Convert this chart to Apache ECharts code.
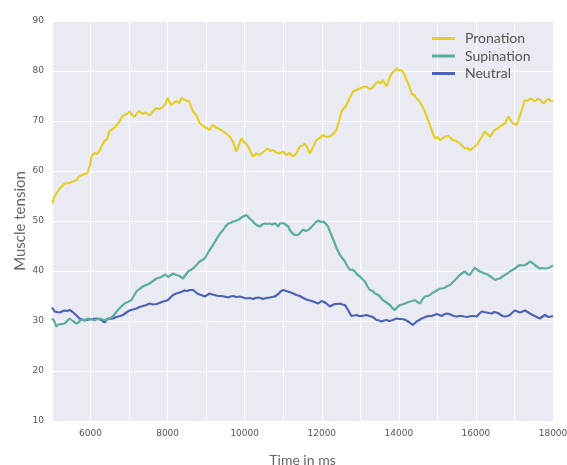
<!DOCTYPE html>
<html>
<head>
<meta charset="utf-8">
<script src="https://cdn.jsdelivr.net/npm/echarts@6/dist/echarts.min.js"></script>
<style>html,body{margin:0;padding:0;background:#fff}#c{width:567px;height:465px}</style>
</head>
<body>
<div id="c"></div>
<script>
var seriesNames = ['Pronation', 'Supination', 'Neutral'];
var yTicks = [10, 20, 30, 40, 50, 60, 70, 80, 90];
var xTicks = [6000, 8000, 10000, 12000, 14000, 16000, 18000];

var pronation = [
[5010,53.5],[5060,54.8],[5120,55.6],[5200,56.5],[5330,57.5],[5450,57.6],[5580,58.0],[5650,58.3],[5710,59.0],[5820,59.3],[5920,59.6],[5980,61.0],[6030,63.0],[6100,63.6],[6160,63.4],[6230,64.0],[6300,65.2],[6360,66.0],[6430,66.4],[6490,68.0],[6580,68.4],[6680,69.2],[6760,70.0],[6830,71.0],[6920,71.3],[7010,71.9],[7080,71.2],[7140,70.8],[7210,71.6],[7270,72.0],[7350,71.4],[7430,71.7],[7530,71.1],[7620,71.9],[7710,72.6],[7790,72.3],[7870,72.8],[7940,73.4],[8000,74.6],[8050,73.8],[8100,73.2],[8170,73.7],[8230,74.0],[8300,73.6],[8360,74.6],[8460,74.2],[8570,73.8],[8650,72.0],[8740,71.2],[8830,69.6],[8920,69.0],[9010,68.6],[9090,68.2],[9170,69.2],[9280,68.6],[9390,68.2],[9500,67.6],[9610,66.9],[9700,65.8],[9780,63.9],[9850,65.2],[9910,66.5],[10000,65.7],[10090,64.9],[10150,63.8],[10220,62.9],[10300,63.5],[10390,63.2],[10500,63.9],[10600,64.5],[10670,64.0],[10740,64.2],[10820,63.7],[10910,63.5],[11000,63.9],[11080,63.2],[11170,63.6],[11250,62.9],[11340,63.5],[11430,64.9],[11500,65.1],[11560,65.5],[11630,64.6],[11690,63.5],[11780,64.9],[11860,66.2],[11950,66.6],[12030,67.2],[12120,66.8],[12210,66.9],[12300,67.4],[12380,68.2],[12450,70.0],[12510,71.9],[12580,72.6],[12640,73.2],[12720,74.5],[12810,75.9],[12900,76.2],[12990,76.5],[13070,76.8],[13160,76.9],[13230,76.4],[13290,76.5],[13380,77.3],[13460,77.9],[13530,77.5],[13590,78.2],[13680,76.9],[13750,78.4],[13810,79.5],[13880,80.0],[13940,80.5],[14010,80.1],[14070,80.2],[14140,79.4],[14200,78.2],[14270,77.0],[14330,75.5],[14400,75.2],[14460,74.5],[14530,74.0],[14590,73.2],[14660,72.2],[14720,70.9],[14790,69.5],[14850,68.2],[14900,67.2],[14940,66.5],[15000,66.8],[15070,66.2],[15130,66.5],[15200,66.9],[15280,67.0],[15340,66.6],[15410,66.2],[15500,66.0],[15580,65.5],[15650,65.0],[15710,64.5],[15780,64.6],[15840,64.2],[15910,64.5],[15970,64.9],[16040,65.4],[16100,66.2],[16170,67.1],[16230,67.9],[16300,67.4],[16360,66.9],[16430,67.6],[16490,68.2],[16560,68.5],[16620,68.9],[16690,69.2],[16750,69.5],[16800,70.2],[16840,70.9],[16910,70.0],[16970,69.5],[17060,69.2],[17120,70.6],[17190,72.2],[17270,74.2],[17340,74.0],[17400,74.5],[17470,74.3],[17530,73.9],[17620,74.5],[17690,74.0],[17750,73.5],[17810,74.0],[17880,74.5],[17940,74.0],[18000,73.9]
];

var supination = [
[5000,30.5],[5060,30.0],[5110,28.9],[5170,29.3],[5240,29.4],[5330,29.5],[5390,30.0],[5460,30.5],[5540,30.0],[5630,29.5],[5700,29.8],[5760,30.3],[5850,30.2],[5930,30.5],[6010,30.4],[6100,30.1],[6170,30.4],[6230,30.5],[6320,30.3],[6410,30.2],[6500,30.5],[6580,30.9],[6650,31.6],[6710,32.2],[6800,32.9],[6880,33.5],[6970,33.8],[7060,34.2],[7120,35.0],[7190,35.9],[7270,36.4],[7360,36.9],[7440,37.2],[7530,37.5],[7620,38.0],[7710,38.5],[7800,38.7],[7880,39.0],[7940,39.3],[8010,38.8],[8070,39.1],[8140,39.5],[8230,39.2],[8310,39.0],[8400,38.5],[8440,38.3],[8530,39.9],[8600,40.2],[8660,40.5],[8750,41.2],[8830,41.9],[8900,42.2],[8960,42.5],[9030,43.4],[9090,44.2],[9180,45.2],[9240,46.0],[9310,46.9],[9370,47.6],[9440,48.2],[9500,48.9],[9570,49.5],[9630,49.6],[9700,49.9],[9760,50.0],[9830,50.2],[9900,50.6],[9960,50.9],[10040,51.2],[10090,50.8],[10130,50.5],[10200,50.0],[10260,49.5],[10330,49.1],[10390,48.9],[10460,49.3],[10520,49.5],[10590,49.4],[10650,49.5],[10720,49.3],[10780,49.6],[10870,48.9],[10910,49.5],[11000,49.6],[11040,49.2],[11130,48.9],[11170,48.2],[11230,47.6],[11300,47.2],[11380,47.2],[11430,47.5],[11520,48.3],[11580,48.0],[11650,48.2],[11710,48.6],[11780,49.2],[11840,49.7],[11910,50.1],[11970,49.8],[12030,49.9],[12100,49.5],[12160,48.9],[12250,47.2],[12340,45.5],[12400,44.3],[12470,43.2],[12530,42.6],[12600,41.9],[12660,41.0],[12730,40.2],[12790,40.3],[12860,39.9],[12920,39.3],[12990,38.9],[13050,38.4],[13120,37.9],[13180,37.0],[13250,36.2],[13320,36.0],[13380,35.5],[13440,35.3],[13510,34.9],[13570,34.3],[13640,33.9],[13700,33.6],[13770,33.2],[13830,32.6],[13900,32.2],[13960,32.8],[14030,33.2],[14090,33.3],[14160,33.5],[14220,33.7],[14290,33.9],[14350,34.0],[14420,34.2],[14480,33.8],[14550,33.5],[14610,34.3],[14680,34.9],[14740,35.0],[14810,35.2],[14870,35.6],[14940,35.9],[15000,36.2],[15070,36.5],[15130,36.5],[15200,36.7],[15260,37.0],[15330,37.2],[15390,37.7],[15460,38.2],[15520,38.7],[15580,39.2],[15650,39.6],[15710,39.9],[15780,39.4],[15840,39.2],[15910,40.0],[15970,40.7],[16040,40.2],[16100,39.9],[16170,39.7],[16230,39.5],[16300,39.3],[16360,39.0],[16430,38.6],[16490,38.2],[16560,38.4],[16620,38.5],[16690,38.9],[16750,39.2],[16820,39.5],[16880,39.9],[16950,40.2],[17010,40.5],[17080,40.9],[17140,41.2],[17210,41.1],[17270,41.2],[17340,41.5],[17400,41.9],[17470,41.6],[17530,41.2],[17600,40.8],[17660,40.5],[17730,40.6],[17790,40.5],[17860,40.6],[17920,40.7],[18000,41.2]
];

var neutral = [
[5000,32.7],[5030,32.3],[5070,31.9],[5130,31.8],[5200,31.7],[5260,31.9],[5330,32.1],[5390,32.0],[5460,32.2],[5520,31.9],[5580,31.5],[5650,31.0],[5710,30.5],[5780,30.3],[5840,30.1],[5910,30.2],[5970,30.3],[6060,30.4],[6150,30.5],[6210,30.4],[6280,30.2],[6320,29.9],[6360,29.7],[6410,30.1],[6450,30.5],[6510,30.4],[6580,30.5],[6640,30.7],[6710,30.9],[6770,31.0],[6840,31.2],[6930,31.7],[7010,32.1],[7100,32.3],[7190,32.5],[7270,32.8],[7360,33.0],[7450,33.2],[7530,33.5],[7620,33.3],[7710,33.4],[7790,33.6],[7880,33.9],[7940,34.0],[8010,34.2],[8070,34.7],[8140,35.2],[8230,35.5],[8310,35.7],[8380,35.9],[8440,36.1],[8510,36.0],[8570,36.2],[8620,36.1],[8660,36.2],[8700,35.9],[8770,35.5],[8830,35.3],[8900,35.1],[8960,34.9],[9030,35.2],[9090,35.5],[9160,35.3],[9220,35.2],[9310,35.0],[9390,35.0],[9480,34.9],[9570,34.7],[9630,34.9],[9700,35.0],[9780,34.8],[9870,34.9],[9960,34.7],[10040,34.5],[10130,34.6],[10220,34.4],[10280,34.6],[10350,34.7],[10410,34.6],[10480,34.4],[10560,34.6],[10650,34.7],[10710,34.8],[10780,34.9],[10870,35.4],[10930,35.9],[11000,36.2],[11080,36.0],[11130,35.9],[11190,35.7],[11260,35.5],[11340,35.2],[11430,35.0],[11520,34.6],[11600,34.3],[11690,34.1],[11780,33.9],[11840,33.7],[11910,33.5],[11990,34.0],[12060,33.8],[12120,33.5],[12210,32.9],[12280,33.2],[12340,33.4],[12410,33.4],[12470,33.5],[12530,33.3],[12600,33.2],[12680,32.2],[12770,31.0],[12840,31.1],[12900,31.2],[12970,31.0],[13030,31.0],[13100,31.1],[13160,31.2],[13230,31.0],[13290,30.9],[13360,30.6],[13420,30.2],[13490,30.1],[13550,29.9],[13620,30.1],[13680,30.2],[13750,30.0],[13810,30.1],[13880,30.3],[13940,30.5],[14010,30.4],[14070,30.4],[14140,30.3],[14200,30.1],[14280,29.7],[14360,29.2],[14410,29.5],[14460,29.9],[14530,30.2],[14590,30.5],[14660,30.7],[14720,30.9],[14790,31.0],[14850,31.0],[14920,31.2],[14980,31.4],[15050,31.2],[15110,31.0],[15170,31.3],[15240,31.5],[15300,31.4],[15370,31.2],[15430,31.0],[15500,30.9],[15560,31.0],[15630,31.0],[15690,30.9],[15760,30.8],[15820,30.9],[15890,31.0],[15950,31.0],[16020,30.9],[16080,31.4],[16150,31.9],[16210,31.8],[16280,31.7],[16340,31.6],[16410,31.5],[16470,31.8],[16520,32.1],[16570,31.6],[16620,31.2],[16690,31.0],[16750,30.9],[16820,31.0],[16880,31.2],[16950,31.7],[17010,32.1],[17080,31.9],[17140,31.7],[17210,31.9],[17270,32.1],[17340,31.8],[17400,31.5],[17470,31.2],[17530,31.0],[17600,30.7],[17660,30.5],[17730,30.9],[17790,31.2],[17840,31.0],[17880,30.8],[17940,30.9],[18000,31.0]
];

var colors = ['#E6CE2A', '#5BAD9D', '#4F61B4'];
var chart = echarts.init(document.getElementById('c'), null, {renderer: 'canvas'});
var lineSeries = [pronation, supination, neutral].map(function (d, i) {
  return {
    name: seriesNames[i], type: 'line', data: d, showSymbol: false, symbol: 'none',
    lineStyle: {width: 2.2, color: colors[i]}, itemStyle: {color: colors[i]},
    animation: false, z: 3 - i + 2
  };
});
chart.setOption({
  animation: false,
  backgroundColor: '#ffffff',
  color: colors,
  grid: {left: 52, right: 14, top: 21, bottom: 44, show: true, backgroundColor: '#EAEAF2', borderWidth: 0,
    containLabel: false, outerBoundsMode: 'none'},
  legend: {
    orient: 'vertical', left: 427, top: 25, itemWidth: 23, itemHeight: 3, itemGap: 0.5,
    icon: 'rect', data: seriesNames,
    textStyle: {fontFamily: 'Lato', fontSize: 14, color: '#555', lineHeight: 17, padding: [0, 0, 0, 5]}
  },
  xAxis: {
    type: 'value', min: 5000, max: 18000, interval: 1000,
    name: 'Time in ms', nameLocation: 'middle', nameGap: 32, nameMoveOverlap: false,
    nameTextStyle: {fontFamily: 'Lato', fontSize: 14, color: '#666'},
    axisLine: {show: false}, axisTick: {show: false},
    axisLabel: {
      margin: 8, fontFamily: 'DejaVu Sans', fontSize: 9, color: '#555', hideOverlap: false,
      formatter: function (v) { return xTicks.indexOf(v) >= 0 ? String(v) : ''; }
    },
    splitLine: {show: true, lineStyle: {color: '#ffffff', width: 1},
      interval: function (i, v) { return xTicks.indexOf(v) >= 0; }}
  },
  yAxis: {
    type: 'value', min: yTicks[0], max: yTicks[yTicks.length - 1], interval: 10,
    name: 'Muscle tension', nameLocation: 'middle', nameGap: 24, nameMoveOverlap: false,
    nameTextStyle: {fontFamily: 'Lato', fontSize: 15, color: '#666'},
    axisLine: {show: false}, axisTick: {show: false},
    axisLabel: {margin: 8, fontFamily: 'DejaVu Sans', fontSize: 9, color: '#555'},
    splitLine: {show: true, lineStyle: {color: '#ffffff', width: 1}}
  },
  series: lineSeries
});
</script>
</body>
</html>
